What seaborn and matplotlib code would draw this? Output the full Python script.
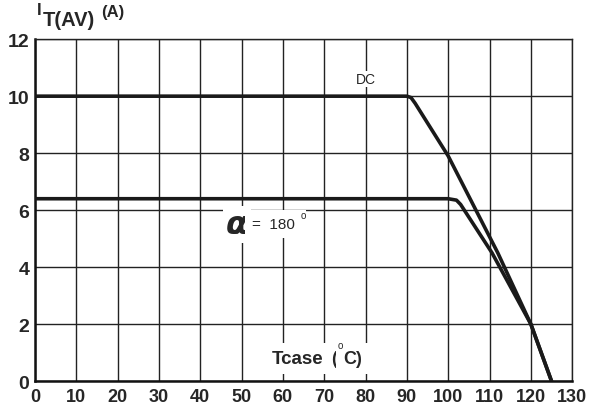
import seaborn as sns
import pandas as pd, numpy as np
import matplotlib.pyplot as plt

# courbes
tc_dc = [0, 90, 91, 92, 100, 112, 120, 125]
it_dc = [10, 10, 9.95, 9.75, 7.9, 4.5, 2.0, 0.0]
tc_180 = [0, 100, 102, 103, 110.6, 120, 125]
it_180 = [6.4, 6.4, 6.35, 6.2, 4.5, 2.0, 0.0]

x_ticks = list(range(0, 131, 10))
y_ticks = list(range(0, 13, 2))

sns.set_style("white")
plt.rcParams['font.family'] = ['Liberation Sans', 'DejaVu Sans']

fig = plt.figure(figsize=(5.96, 4.06), dpi=100)
ax = fig.add_axes([0.0587, 0.059, 0.9013, 0.842])

dc = pd.DataFrame({"Tcase": tc_dc, "IT": it_dc})
a180 = pd.DataFrame({"Tcase": tc_180, "IT": it_180})
sns.lineplot(data=dc, x="Tcase", y="IT", color="#1a1a1a", lw=2.6, sort=False, ax=ax, zorder=3)
sns.lineplot(data=a180, x="Tcase", y="IT", color="#1a1a1a", lw=2.6, sort=False, ax=ax, zorder=3)

ax.set_xlim(0, 130)
ax.set_ylim(0, 12)
ax.set_xticks(x_ticks)
ax.set_yticks(y_ticks)
ax.grid(True, color="#222222", lw=1.0)
ax.set_axisbelow(True)
for s in ["top", "right"]:
    ax.spines[s].set_color("#222222")
    ax.spines[s].set_linewidth(1.0)
for s in ["left", "bottom"]:
    ax.spines[s].set_color("#111111")
    ax.spines[s].set_linewidth(1.8)
ax.tick_params(length=0)
ax.tick_params(axis="y", pad=4, labelsize=14)
ax.tick_params(axis="x", pad=5, labelsize=13)
for lab in ax.get_xticklabels() + ax.get_yticklabels():
    lab.set_fontweight("bold")
ax.set_xlabel("")
ax.set_ylabel("")

# libellés dans le graphe
ax.text(80.1, 10.6, "DC", fontsize=10, ha="center", va="center",
        bbox=dict(fc="white", ec="none", pad=1), zorder=4)
ax.text(48.9, 5.5, "α", fontsize=23, fontstyle="italic", fontweight="bold",
        ha="center", va="center", family=["DejaVu Sans"],
        bbox=dict(fc="white", ec="none", pad=2), zorder=4)
ax.text(52.5, 5.5, "=  180 ", fontsize=11, ha="left", va="center",
        bbox=dict(fc="white", ec="none", pad=5), zorder=4)
ax.text(64.4, 5.82, "o", fontsize=7, ha="left", va="center", zorder=5)
ax.text(57.4, 0.8, "Tcase", fontsize=13.5, fontweight="bold", ha="left", va="center",
        bbox=dict(fc="white", ec="none", pad=5), zorder=4)
ax.text(71.6, 0.8, "(", fontsize=13, fontweight="bold", ha="left", va="center",
        bbox=dict(fc="white", ec="none", pad=5), zorder=4)
ax.text(74.6, 0.8, "C)", fontsize=13, fontweight="bold", ha="left", va="center",
        bbox=dict(fc="white", ec="none", pad=5), zorder=4)
ax.text(73.3, 1.25, "o", fontsize=7, ha="left", va="center", zorder=5)

# titre de l'axe y
fig.text(0.062, 0.973, "I", fontsize=12, fontweight="bold", ha="left", va="center")
fig.text(0.071, 0.950, "T(AV)", fontsize=14.5, fontweight="bold", ha="left", va="center")
fig.text(0.170, 0.969, "(A)", fontsize=12, fontweight="bold", ha="left", va="center")

fig.savefig("out.png", dpi=100)
